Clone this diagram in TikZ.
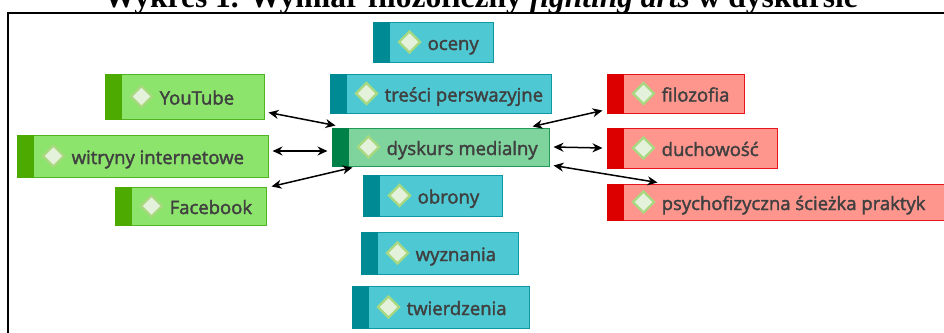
\documentclass[tikz,border=0pt]{standalone}
\usepackage{fontspec}
\setmainfont{Liberation Serif}
\newfontfamily\lab[FakeBold=2]{Open Sans}
\usetikzlibrary{arrows.meta,fit,shapes.geometric}
\definecolor{tealF}{HTML}{4EC9D3}
\definecolor{tealS}{HTML}{008A93}
\definecolor{tealB}{HTML}{0E98A2}
\definecolor{grnF}{HTML}{8CE46C}
\definecolor{grnS}{HTML}{4CAA00}
\definecolor{grnB}{HTML}{51B320}
\definecolor{dmF}{HTML}{7FD39C}
\definecolor{dmS}{HTML}{008148}
\definecolor{dmB}{HTML}{1F9A58}
\definecolor{redF}{HTML}{FF968E}
\definecolor{redS}{HTML}{DD0000}
\definecolor{redB}{HTML}{E8141E}
\definecolor{txt}{HTML}{404040}
\definecolor{diaF}{HTML}{E4F2DC}
\definecolor{diaB}{HTML}{A8D880}
\tikzset{
  boxbase/.style={inner sep=0pt, line width=1pt},
  dia/.style={diamond, draw=diaB, fill=diaF, line width=2.2pt, inner sep=0pt, minimum width=22pt, minimum height=22pt},
  lbl/.style={anchor=base west, inner sep=0pt, text=txt, font=\lab\fontsize{18.5}{22}\selectfont},
  link/.style={line width=1.5pt, {Stealth[length=10pt,width=9pt]}-{Stealth[length=10pt,width=9pt]}}
}
\newcommand\mkbox[9]{%
  \node[boxbase, draw=#8, fill=#6, fit={(#2,#3) (#4,#5)}] (#1) {};
  \fill[#7] (#1.north west) rectangle ([xshift=17pt]#1.south west);
  \node[dia] (#1-d) at ([xshift=37pt]#1.west) {};
  \node[lbl] (#1-t) at ([xshift=55pt,yshift=-8pt]#1.west) {#9};
}
\begin{document}
\begin{tikzpicture}[x=1pt,y=-1pt]
\useasboundingbox (0,0) rectangle (944,332);
\clip (0,0) rectangle (944,332);
\node[anchor=base, inner sep=0pt, font=\bfseries\fontsize{31.5}{34}\selectfont] (title) at (481,7) {Wykres 1. Wymiar filozoficzny \textit{fighting arts} w dyskursie};
\draw[line width=2pt] (8,340) -- (8,12.5) -- (950,12.5);
% teal column
\mkbox{oceny}{373}{22}{493}{62}{tealF}{tealS}{tealB}{oceny}
\mkbox{tresci}{330}{74}{551}{113}{tealF}{tealS}{tealB}{treści perswazyjne}
\mkbox{dm}{332}{128}{549}{166}{dmF}{dmS}{dmB}{dyskurs medialny}
\mkbox{obrony}{363}{175}{502}{216}{tealF}{tealS}{tealB}{obrony}
\mkbox{wyznania}{361}{232}{518}{274}{tealF}{tealS}{tealB}{wyznania}
\mkbox{twierdzenia}{352}{286}{529}{328}{tealF}{tealS}{tealB}{twierdzenia}
% green
\mkbox{yt}{105}{74}{264}{119}{grnF}{grnS}{grnB}{YouTube}
\mkbox{wi}{17}{135}{268}{177}{grnF}{grnS}{grnB}{witryny internetowe}
\mkbox{fb}{115}{187}{266}{225}{grnF}{grnS}{grnB}{Facebook}
% red
\mkbox{fil}{607}{74}{744}{113}{redF}{redS}{redB}{filozofia}
\mkbox{duch}{607}{128}{777}{168}{redF}{redS}{redB}{duchowość}
\mkbox{psy}{607}{184}{960}{220}{redF}{redS}{redB}{psychofizyczna ścieżka praktyk}
% links
\draw[link] ([xshift=4pt,yshift=7pt]yt.south east) -- ([xshift=4pt,yshift=2pt]dm.north west);
\draw[link] ([xshift=4pt,yshift=5pt]wi.east) -- ([xshift=-4pt,yshift=-4pt]dm.west);
\draw[link] ([xshift=5pt]fb.north east) -- ([xshift=21pt,yshift=-1pt]dm.south west);
\draw[link] ([xshift=-17pt,yshift=1pt]dm.north east) -- ([xshift=-4pt,yshift=3pt]fil.south west);
\draw[link] ([xshift=4pt]dm.east) -- ([xshift=-4pt]duch.west);
\draw[link] ([xshift=4pt,yshift=1pt]dm.south east) -- ([xshift=51pt,yshift=1pt]psy.north west);
\end{tikzpicture}
\end{document}
